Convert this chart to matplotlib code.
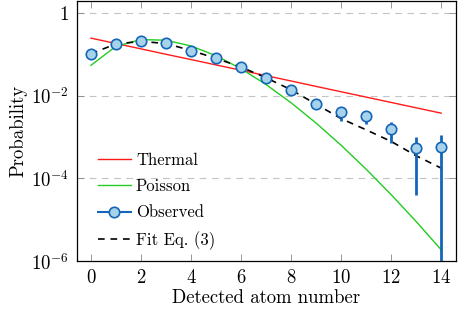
import numpy as np
import matplotlib
matplotlib.use('Agg')
import matplotlib.pyplot as plt
from matplotlib.lines import Line2D

plt.rcParams['font.family'] = 'cmr10'
plt.rcParams['mathtext.fontset'] = 'cm'
plt.rcParams['axes.formatter.use_mathtext'] = True
plt.rcParams['font.size'] = 13

# Data
n = np.arange(0, 15)
thermal = [0.251, 0.186, 0.138, 0.102, 0.0760, 0.0563, 0.0418, 0.0310, 0.0230,
           0.0170, 0.0126, 0.00937, 0.00695, 0.00515, 0.00382]
poisson = [0.0550, 0.1596, 0.2314, 0.2237, 0.1622, 0.0941, 0.0455, 0.01884,
           0.00683, 0.00220, 6.38e-4, 1.68e-4, 4.06e-5, 9.06e-6, 1.88e-6]
observed = [0.104, 0.18, 0.21, 0.19, 0.125, 0.081, 0.051, 0.027, 0.0136,
            0.0065, 0.0040, 0.0032, 0.00156, 0.00055, 0.00057]
obs_low = [0.104, 0.18, 0.21, 0.19, 0.125, 0.081, 0.051, 0.027, 0.0136,
           0.0065, 0.00245, 0.00204, 0.00072, 4.0e-5, 1e-8]
obs_high = [0.104, 0.18, 0.21, 0.19, 0.125, 0.081, 0.051, 0.027, 0.0136,
            0.0065, 0.0051, 0.0043, 0.00234, 0.00102, 0.00112]
fit = [0.105, 0.182, 0.209, 0.186, 0.126, 0.0813, 0.0501, 0.0275, 0.0141,
       0.0063, 0.00282, 0.00151, 0.00079, 0.000355, 0.000178]

xticks = [0, 2, 4, 6, 8, 10, 12, 14]
yticks = [1e-6, 1e-4, 1e-2, 1]
ytick_labels = [r'$10^{-6}$', r'$10^{-4}$', r'$10^{-2}$', r'$1$']

red = '#ff1a1a'
green = '#22cc22'
blue = '#1565b8'
light = '#a6d3ea'

fig = plt.figure(figsize=(4.58, 3.10), dpi=100)
ax = fig.add_axes([0.168, 0.158, 0.828, 0.839])

ax.set_yscale('log')
ax.set_xlim(-0.56, 14.6)
ax.set_ylim(1e-6, 2.0)

# grid
for yv in [1, 1e-2, 1e-4]:
    ax.axhline(yv, color='#c4c4c4', lw=0.8, ls=(0, (6, 5)), zorder=0)

ax.plot(n, thermal, color=red, lw=1.0, zorder=2)
ax.plot(n, poisson, color=green, lw=1.0, zorder=2)
ax.plot(n, fit, color='black', lw=1.2, ls=(0, (4, 3.5)), zorder=4)

obs = np.array(observed)
yerr = [obs - np.array(obs_low), np.array(obs_high) - obs]
ax.errorbar(n, obs, yerr=yerr, fmt='o', color=blue, ecolor=blue, elinewidth=2.0,
            capsize=0, markersize=7.5, markerfacecolor=light,
            markeredgecolor=blue, markeredgewidth=1.2, zorder=5)

ax.set_xticks(xticks)
ax.yaxis.set_major_locator(matplotlib.ticker.FixedLocator(yticks))
ax.yaxis.set_minor_locator(matplotlib.ticker.NullLocator())
ax.set_yticklabels(ytick_labels)
ax.tick_params(direction='in', length=5, width=0.6, top=True, right=True,
               labelsize=13.5, pad=6, color='#888888')
for sp in ax.spines.values():
    sp.set_linewidth(0.9)

ax.set_xlabel('Detected atom number', fontsize=13.5, labelpad=1)
ax.set_ylabel('Probability', fontsize=13.5, labelpad=2)

handles = [Line2D([], [], color=red, lw=1.0),
           Line2D([], [], color=green, lw=1.0),
           Line2D([], [], color=blue, lw=1.5, marker='o', markersize=7.5,
                  markerfacecolor=light, markeredgecolor=blue, markeredgewidth=1.2),
           Line2D([], [], color='black', lw=1.2, ls=(0, (4, 3.5)))]
labels = ['Thermal', 'Poisson', 'Observed', 'Fit Eq. (3)']
ax.legend(handles, labels, loc='lower left', bbox_to_anchor=(0.015, -0.015),
          frameon=False, fontsize=12, handlelength=2.0, labelspacing=0.65,
          handletextpad=0.3)

fig.savefig('out.png', dpi=100)
